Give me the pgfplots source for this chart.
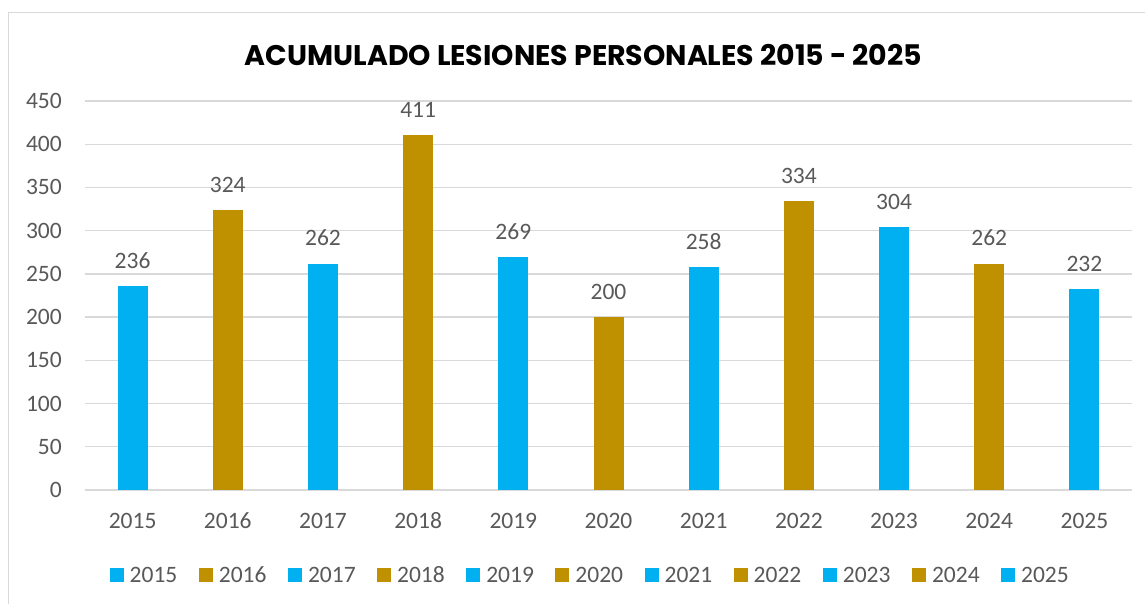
\documentclass[border=0pt]{standalone}
\usepackage{pgfplots}
\pgfplotsset{compat=1.18}
\usepackage{fontspec}
\setmainfont{Carlito}
\newfontfamily\titlefont{Poppins}
\definecolor{cyanB}{HTML}{00B0F0}
\definecolor{goldB}{HTML}{BF9000}
\definecolor{txt}{HTML}{595959}
\definecolor{gridc}{HTML}{D9D9D9}
\begin{document}
\begin{tikzpicture}[x=1pt,y=1pt]
\useasboundingbox (0,0) rectangle (1145,604);
\fill[white] (0,0) rectangle (1145,604);
\draw[gridc, line width=1.2pt] (8.5,-5) -- (8.5,591.5) -- (1150,591.5);
\node[anchor=base, inner sep=0pt] at (583.5,538) {\resizebox{677pt}{!}{\titlefont\bfseries ACUMULADO LESIONES PERSONALES 2015 - 2025}};
\begin{axis}[
  at={(85pt,114pt)}, anchor=south west,
  scale only axis, width=1047pt, height=389pt,
  xmin=-0.5, xmax=10.5, ymin=0, ymax=450,
  ytick distance=50,
  xtick={0,...,10},
  xticklabels={2015,2016,2017,2018,2019,2020,2021,2022,2023,2024,2025},
  ybar, bar width=30pt, bar shift=0pt,
  axis line style={draw=none},
  major tick length=0pt,
  ymajorgrids, grid style={gridc, line width=1.3pt},
  tick label style={font=\fontsize{23.5}{28}\selectfont, text=txt},
  /pgf/number format/assume math mode=true,
  yticklabel style={anchor=east, inner sep=0pt, xshift=-23pt},
  xticklabel style={anchor=base, inner sep=0pt, yshift=-38.5pt},
  nodes near coords,
  every node near coord/.append style={font=\fontsize{23.5}{28}\selectfont, text=txt, anchor=south, inner sep=0pt, yshift=17.5pt},
  legend columns=11,
  legend style={at={(axis description cs:0.4845,-0.2185)}, anchor=center, draw=none, fill=none,
    font=\fontsize{23.5}{28}\selectfont, text=txt,
    nodes={inner xsep=6pt, inner ysep=0pt, text height=15pt, text depth=0pt},
    /tikz/every even column/.append style={column sep=15.5pt}},
  legend image code/.code={\fill[#1] (0pt,-7pt) rectangle (14pt,7pt);},
]
\addplot[fill=cyanB, draw=none] coordinates {(0,236)};
\addplot[fill=goldB, draw=none] coordinates {(1,324)};
\addplot[fill=cyanB, draw=none] coordinates {(2,262)};
\addplot[fill=goldB, draw=none] coordinates {(3,411)};
\addplot[fill=cyanB, draw=none] coordinates {(4,269)};
\addplot[fill=goldB, draw=none] coordinates {(5,200)};
\addplot[fill=cyanB, draw=none] coordinates {(6,258)};
\addplot[fill=goldB, draw=none] coordinates {(7,334)};
\addplot[fill=cyanB, draw=none] coordinates {(8,304)};
\addplot[fill=goldB, draw=none] coordinates {(9,262)};
\addplot[fill=cyanB, draw=none] coordinates {(10,232)};
\legend{2015,2016,2017,2018,2019,2020,2021,2022,2023,2024,2025}
\end{axis}
\end{tikzpicture}
\end{document}
